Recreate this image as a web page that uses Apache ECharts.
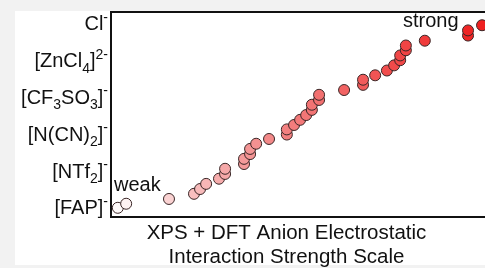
<!DOCTYPE html>
<html lang="en">
<head>
    <title>anion scale</title>
    <meta charset="utf-8">
    <style>
        body { margin: 0; background: #f2f2f2; }
        #panel { position: absolute; left: 15px; top: 11px; width: 470px; height: 254px; background: #fff; }
        #main { position: absolute; left: 0; top: 0; width: 485px; height: 268px; }
    </style>
</head>
<body>
<script type="text/javascript" src="https://cdn.jsdelivr.net/npm/echarts@6/dist/echarts.min.js"></script>
<div id="panel"></div>
<div id="main"></div>
<script type="text/javascript">
    // anion labels, bottom (weak) to top (strong)
    var anionLabels = [
        '[FAP]{sup|-}',
        '[NTf{sub|2}]{sup|-}',
        '[N(CN){sub|2}]{sup|-}',
        '[CF{sub|3}SO{sub|3}]{sup|-}',
        '[ZnCl{sub|4}]{sup|2-}',
        'Cl{sup|-}'
    ];
    var anionTicks = [0, 1, 2, 3, 4, 5];

    // strength scale (x) and rank position (y) of each ionic liquid
    var strength = [1.8, 4.0, 15.3, 21.9, 23.5, 25.1, 28.5, 30.1, 30.1, 35.1,
        35.1, 36.7, 36.7, 38.3, 41.7, 46.4, 46.4, 48.3, 49.9, 51.5,
        53.0, 53.0, 54.9, 54.9, 61.5, 66.5, 66.5, 69.7, 72.8, 74.7,
        76.3, 76.3, 77.8, 77.8, 82.8, 94.2, 94.2, 97.9];
    var position = [0.03, 0.14, 0.27, 0.41, 0.54, 0.68, 0.82, 0.95, 1.09, 1.22,
        1.36, 1.49, 1.63, 1.77, 1.90, 2.02, 2.16, 2.28, 2.42, 2.55,
        2.69, 2.83, 2.96, 3.10, 3.23, 3.37, 3.51, 3.63, 3.76, 3.90,
        4.04, 4.17, 4.31, 4.44, 4.57, 4.71, 4.85, 4.99];

    var pts = [];
    for (var i = 0; i < strength.length; i++) {
        pts.push([strength[i], position[i]]);
    }

    var font = '"Liberation Sans", Arial, sans-serif';
    var myChart = echarts.init(document.getElementById('main'));
    var option = {
        backgroundColor: 'transparent',
        animation: false,
        grid: {
            left: 111, top: 12, bottom: 51, width: 379,
            outerBoundsMode: 'none',
            containLabel: false,
            show: true, borderColor: '#111', borderWidth: 2
        },
        visualMap: {
            show: false,
            type: 'continuous',
            dimension: 0,
            min: 0, max: 100,
            inRange: { color: ['#ffffff', '#f8c4c4', '#f38c8c', '#f26666', '#f04040', '#ee1c1c'] }
        },
        xAxis: {
            type: 'value',
            min: 0, max: 100,
            axisLine: { show: false },
            axisTick: { show: false },
            axisLabel: { show: false },
            splitLine: { show: false },
            name: 'XPS + DFT Anion Electrostatic\nInteraction Strength Scale',
            nameLocation: 'middle',
            nameGap: 4,
            nameTextStyle: {
                fontFamily: font, fontSize: 20.5, lineHeight: 24,
                color: '#111', padding: [0, 28, 0, 0]
            }
        },
        yAxis: {
            type: 'value',
            min: -0.22, max: 5.35,
            axisLine: { show: false },
            axisTick: { show: false },
            splitLine: { show: false },
            axisLabel: {
                customValues: anionTicks,
                margin: 3,
                formatter: function (v) {
                    return anionLabels[Math.round(v)];
                },
                fontFamily: font, fontSize: 20, lineHeight: 28, color: '#111',
                rich: {
                    sup: { fontFamily: font, fontSize: 14, lineHeight: 12, verticalAlign: 'top', color: '#111' },
                    sub: { fontFamily: font, fontSize: 14, lineHeight: 12, verticalAlign: 'bottom', color: '#111' }
                }
            }
        },
        graphic: [{
            type: 'text', left: 114, top: 175,
            style: { text: 'weak', font: '20px ' + font, fill: '#111' }
        }, {
            type: 'text', left: 403, top: 11,
            style: { text: 'strong', font: '20px ' + font, fill: '#111' }
        }],
        series: [{
            type: 'scatter',
            symbolSize: 11,
            itemStyle: { borderColor: '#3a2626', borderWidth: 1, opacity: 1 },
            data: pts
        }]
    };
    myChart.setOption(option);
</script>
</body>
</html>
